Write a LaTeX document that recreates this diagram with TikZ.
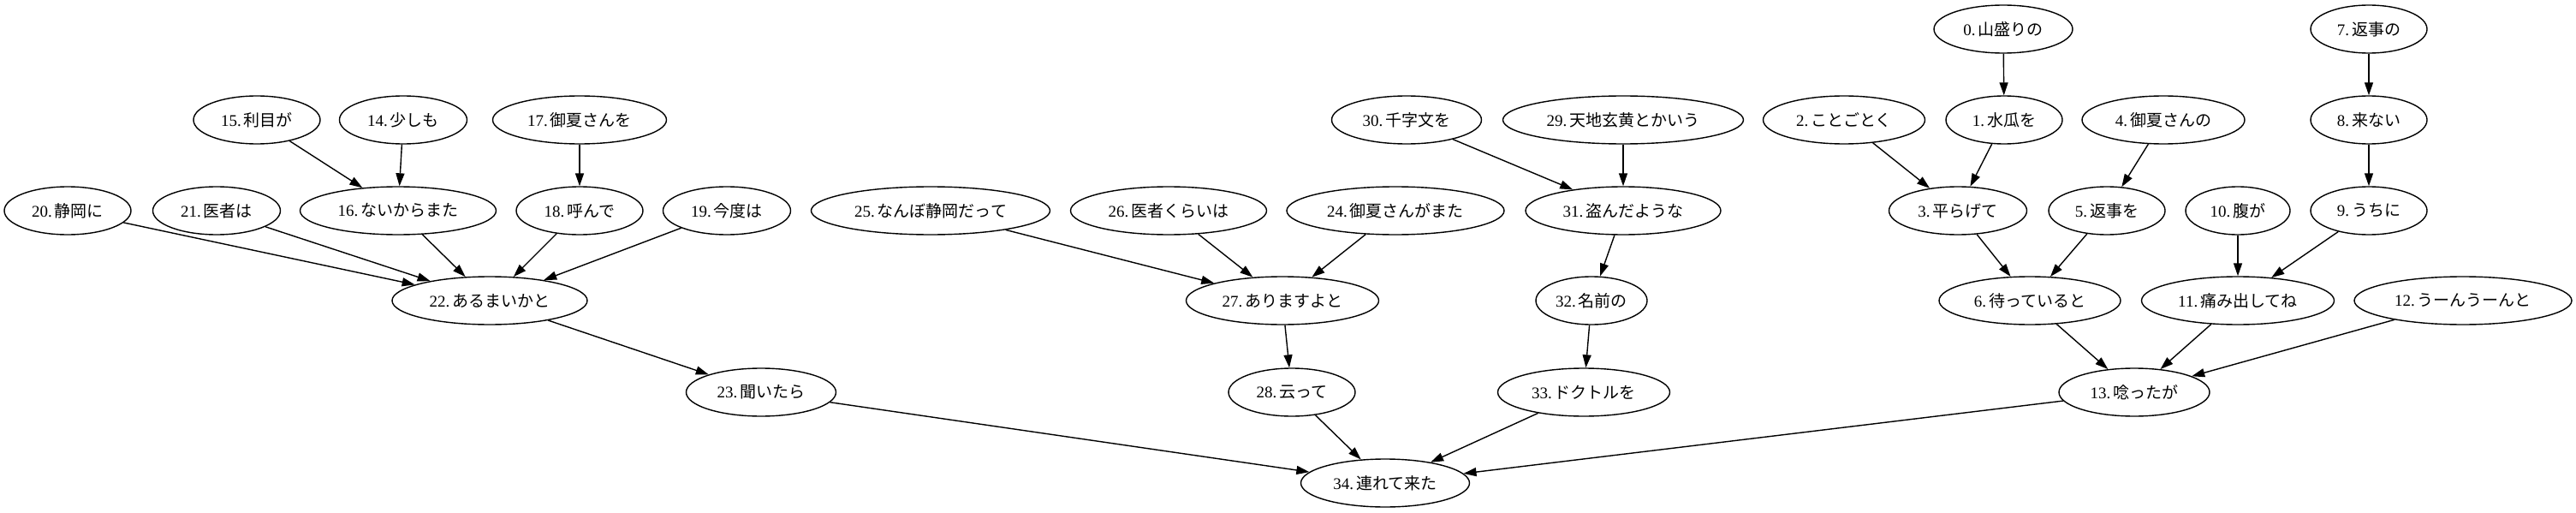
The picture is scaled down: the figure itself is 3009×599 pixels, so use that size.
\documentclass[tikz,border=0pt]{standalone}
\usepackage{fontspec}
\setmainfont{Liberation Serif}
\newfontfamily\cjk{Noto Sans CJK JP}
\usetikzlibrary{shapes.geometric,arrows.meta}
\tikzset{
  nd/.style={ellipse, draw, line width=1.4pt, minimum height=56pt, inner sep=0pt,
             font=\fontsize{19}{22}\selectfont},
  ar/.style={line width=1.4pt, -{Triangle[length=15pt,width=10pt]}}
}
\newcommand\nlab[2]{#1.\,{\cjk #2}}
\begin{document}
\begin{tikzpicture}[x=1pt,y=-1pt]
\useasboundingbox[fill=white] (0,0) rectangle (3009,599);
% rank 0
\node[nd,minimum width=162pt] (n0) at (2340,34) {\nlab{0}{山盛りの}};
\node[nd,minimum width=136pt] (n7) at (2767,34) {\nlab{7}{返事の}};
% rank 1
\node[nd,minimum width=148pt] (n15) at (300,140) {\nlab{15}{利目が}};
\node[nd,minimum width=149pt] (n14) at (471,140) {\nlab{14}{少しも}};
\node[nd,minimum width=203pt] (n17) at (677,140) {\nlab{17}{御夏さんを}};
\node[nd,minimum width=175pt] (n30) at (1643,140) {\nlab{30}{千字文を}};
\node[nd,minimum width=281pt] (n29) at (1896,140) {\nlab{29}{天地玄黄とかいう}};
\node[nd,minimum width=189pt] (n2) at (2154,140) {\nlab{2}{ことごとく}};
\node[nd,minimum width=136pt] (n1) at (2341,140) {\nlab{1}{水瓜を}};
\node[nd,minimum width=190pt] (n4) at (2527,140) {\nlab{4}{御夏さんの}};
\node[nd,minimum width=136pt] (n8) at (2767,140) {\nlab{8}{来ない}};
% rank 2
\node[nd,minimum width=148pt] (n20) at (79,246) {\nlab{20}{静岡に}};
\node[nd,minimum width=149pt] (n21) at (253,246) {\nlab{21}{医者は}};
\node[nd,minimum width=229pt] (n16) at (465,246) {\nlab{16}{ないからまた}};
\node[nd,minimum width=148pt] (n18) at (677,246) {\nlab{18}{呼んで}};
\node[nd,minimum width=149pt] (n19) at (849,246) {\nlab{19}{今度は}};
\node[nd,minimum width=279pt] (n25) at (1087,246) {\nlab{25}{なんぼ静岡だって}};
\node[nd,minimum width=229pt] (n26) at (1365,246) {\nlab{26}{医者くらいは}};
\node[nd,minimum width=254pt] (n24) at (1630,246) {\nlab{24}{御夏さんがまた}};
\node[nd,minimum width=228pt] (n31) at (1896,246) {\nlab{31}{盗んだような}};
\node[nd,minimum width=161pt] (n3) at (2287,246) {\nlab{3}{平らげて}};
\node[nd,minimum width=136pt] (n5) at (2461,246) {\nlab{5}{返事を}};
\node[nd,minimum width=122pt] (n10) at (2614,246) {\nlab{10}{腹が}};
\node[nd,minimum width=136pt] (n9) at (2767,246) {\nlab{9}{うちに}};
% rank 3
\node[nd,minimum width=228pt] (n22) at (572,351) {\nlab{22}{あるまいかと}};
\node[nd,minimum width=225pt] (n27) at (1498,351) {\nlab{27}{ありますよと}};
\node[nd,minimum width=130pt] (n32) at (1859,351) {\nlab{32}{名前の}};
\node[nd,minimum width=212pt] (n6) at (2371,351) {\nlab{6}{待っていると}};
\node[nd,minimum width=225pt] (n11) at (2614,351) {\nlab{11}{痛み出してね}};
\node[nd,minimum width=254pt] (n12) at (2877,351) {\nlab{12}{うーんうーんと}};
% rank 4
\node[nd,minimum width=175pt] (n23) at (889,458) {\nlab{23}{聞いたら}};
\node[nd,minimum width=148pt] (n28) at (1509,458) {\nlab{28}{云って}};
\node[nd,minimum width=201pt] (n33) at (1850,458) {\nlab{33}{ドクトルを}};
\node[nd,minimum width=176pt] (n13) at (2493,458) {\nlab{13}{唸ったが}};
% rank 5
\node[nd,minimum width=197pt] (n34) at (1618,564) {\nlab{34}{連れて来た}};
% edges
\draw[ar] (n15) -- (n16);
\draw[ar] (n14) -- (n16);
\draw[ar] (n17) -- (n18);
\draw[ar] (n20) -- (n22);
\draw[ar] (n21) -- (n22);
\draw[ar] (n16) -- (n22);
\draw[ar] (n18) -- (n22);
\draw[ar] (n19) -- (n22);
\draw[ar] (n22) -- (n23);
\draw[ar] (n23) -- (n34);
\draw[ar] (n25) -- (n27);
\draw[ar] (n26) -- (n27);
\draw[ar] (n24) -- (n27);
\draw[ar] (n27) -- (n28);
\draw[ar] (n28) -- (n34);
\draw[ar] (n30) -- (n31);
\draw[ar] (n29) -- (n31);
\draw[ar] (n31) -- (n32);
\draw[ar] (n32) -- (n33);
\draw[ar] (n33) -- (n34);
\draw[ar] (n0) -- (n1);
\draw[ar] (n2) -- (n3);
\draw[ar] (n1) -- (n3);
\draw[ar] (n4) -- (n5);
\draw[ar] (n3) -- (n6);
\draw[ar] (n5) -- (n6);
\draw[ar] (n7) -- (n8);
\draw[ar] (n8) -- (n9);
\draw[ar] (n10) -- (n11);
\draw[ar] (n9) -- (n11);
\draw[ar] (n6) -- (n13);
\draw[ar] (n11) -- (n13);
\draw[ar] (n12) -- (n13);
\draw[ar] (n13) -- (n34);
\end{tikzpicture}
\end{document}
